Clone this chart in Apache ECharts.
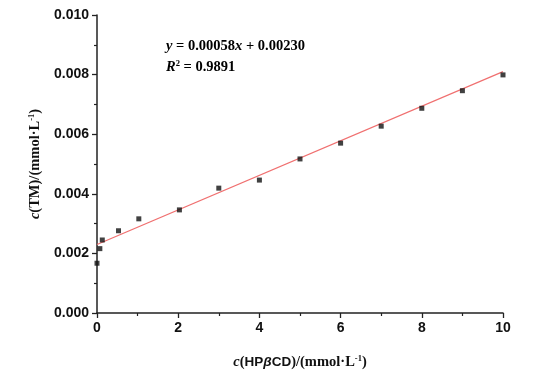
<!DOCTYPE html>
<html><head><meta charset="utf-8">
<script src="https://cdn.jsdelivr.net/npm/echarts@6/dist/echarts.min.js"></script>
<style>html,body{margin:0;padding:0;background:#fff}#c{width:554px;height:379px}</style>
</head><body><div id="c"></div>
<script>
const xValues = [0, 0.07, 0.13, 0.53, 1.03, 2.03, 3, 4, 5, 6, 7, 8, 9, 10];
const yValues = [0.00167, 0.00216, 0.00245, 0.00276, 0.00316, 0.00346, 0.00419, 0.00446, 0.00517, 0.00570, 0.00627, 0.00687, 0.00746, 0.00799];
const fitX = [0, 10];
const fitY = [0.00230, 0.00810];
const xTicks = ['0', '2', '4', '6', '8', '10'];
const yTicks = ['0.000', '0.002', '0.004', '0.006', '0.008', '0.010'];

const chart = echarts.init(document.getElementById('c'));
const tickFont = {fontFamily: 'Liberation Sans', fontWeight: 'bold', fontSize: 14, color: '#111'};
const serif = 'Liberation Serif';
const rich = {
  i: {fontFamily: serif, fontStyle: 'italic', fontWeight: 'bold', fontSize: 14.5, color: '#111'},
  n: {fontFamily: serif, fontWeight: 'bold', fontSize: 14.5, color: '#111'},
  s: {fontFamily: 'Liberation Sans', fontWeight: 'bold', fontSize: 13.5, color: '#111'},
  b: {fontFamily: 'Liberation Sans', fontWeight: 'bold', fontStyle: 'italic', fontSize: 13.5, color: '#111'},
  sup: {fontFamily: serif, fontWeight: 'bold', fontSize: 8.5, color: '#111', padding: [0, 0, 7, 0]}
};
chart.setOption({
  animation: false,
  grid: {left: 97, right: 51, top: 15, bottom: 66},
  xAxis: {
    type: 'value', min: 0, max: 10, interval: 2,
    axisLine: {show: true, lineStyle: {color: '#222', width: 1.5}},
    axisTick: {show: true, inside: false, length: 5, lineStyle: {color: '#222', width: 1.3}},
    minorTick: {show: true, splitNumber: 2, length: 3, lineStyle: {color: '#222', width: 1.2}},
    splitLine: {show: false},
    axisLabel: Object.assign({margin: 8, formatter: (v) => xTicks[Math.round(v / 2)]}, tickFont),
    name: '{i|c}{n|(}{s|HP}{b|β}{s|CD}{n|)/(mmol·L}{sup|-1}{n|)}',
    nameLocation: 'middle', nameGap: 41,
    nameTextStyle: {rich: rich}
  },
  yAxis: {
    type: 'value', min: 0, max: 0.010, interval: 0.002,
    axisLine: {show: true, lineStyle: {color: '#222', width: 1.5}},
    axisTick: {show: true, inside: false, length: 5, lineStyle: {color: '#222', width: 1.3}},
    minorTick: {show: true, splitNumber: 2, length: 3, lineStyle: {color: '#222', width: 1.2}},
    splitLine: {show: false},
    axisLabel: Object.assign({margin: 8, formatter: (v) => yTicks[Math.round(v / 0.002)]}, tickFont),
    name: '{i|c}{n|(TM)/(mmol·L}{sup|-1}{n|)}',
    nameLocation: 'middle', nameGap: 53, nameRotate: 90,
    nameTextStyle: {rich: rich}
  },
  series: [
    {
      type: 'line', data: fitX.map((x, i) => [x, fitY[i]]),
      showSymbol: false, lineStyle: {color: '#f07070', width: 1.2}, z: 2
    },
    {
      type: 'scatter', data: xValues.map((x, i) => [x, yValues[i]]),
      symbol: 'rect', symbolSize: 5, itemStyle: {color: '#111'}, z: 3
    }
  ],
  graphic: [
    {type: 'text', left: 166, top: 39, style: {
      text: '{i|y}{n| = 0.00058}{i|x}{n| + 0.00230}', rich: rich}},
    {type: 'text', left: 166, top: 59, style: {
      text: '{i|R}{sup|2}{n| = 0.9891}', rich: rich}}
  ]
});
</script></body></html>
